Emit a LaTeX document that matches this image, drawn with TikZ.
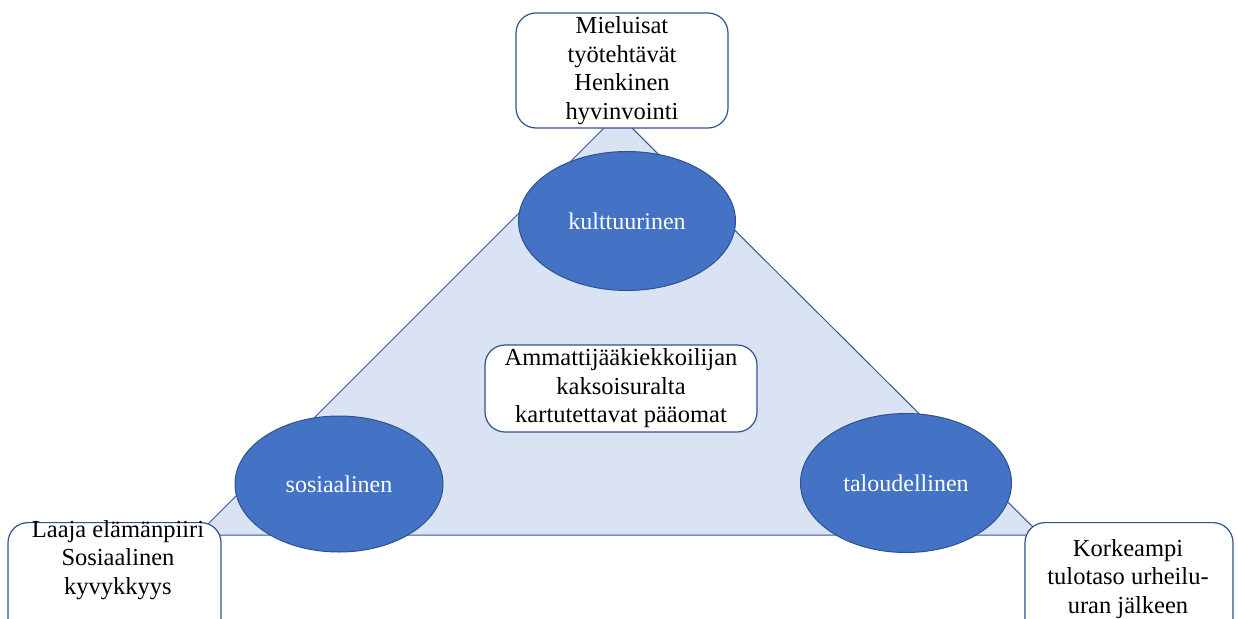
\documentclass[tikz,border=0pt]{standalone}
\usepackage{fontspec}
\setmainfont{Liberation Serif}
\usetikzlibrary{shapes.geometric}
\definecolor{pohja}{HTML}{DAE3F3}
\definecolor{sininen}{HTML}{4472C4}
\definecolor{reuna}{HTML}{2F528F}
\tikzset{
  paaoma/.style={ellipse, draw=reuna, line width=1pt, fill=sininen, text=white,
    inner sep=0pt, font=\fontsize{24}{28.5}\selectfont},
  laatikko/.style={rectangle, rounded corners=20pt, draw=reuna, line width=1.2pt,
    fill=white, inner sep=0pt},
  teksti/.style={align=center, inner sep=0pt, font=\fontsize{24.5}{28.5}\selectfont}
}
\begin{document}
\begin{tikzpicture}[x=1pt,y=-1pt]
\useasboundingbox (0,0) rectangle (1238,618);
% the triangle
\coordinate (karki) at (618,114);
\coordinate (vasen) at (197,535);
\coordinate (oikea) at (1041,535);
\draw[reuna!80!sininen, line width=1pt, fill=pohja] (karki) -- (vasen) -- (oikea) -- cycle;
% the three capitals
\foreach \x/\y/\w/\h/\nimi/\sana in {627/221/217/139/kult/kulttuurinen,
    339/484/208/136/sos/sosiaalinen, 906/483/211/139/tal/taloudellinen}
\node[paaoma, minimum width=\w, minimum height=\h] (\nimi) at (\x,\y) {\sana};
% the boxes
\node[laatikko, teksti, minimum width=212, minimum height=115] (kultbox) at (622,70.5)
  {Mieluisat\\työtehtävät\\Henkinen\\hyvinvointi};
\node[laatikko, teksti, minimum width=272, minimum height=87] (keski) at (621,388.5)
  {Ammattijääkiekkoilijan\\kaksoisuralta\\kartutettavat pääomat};
\node[laatikko, minimum width=213, minimum height=130, anchor=north] (sosbox) at (114.5,522) {};
\node[teksti] (sosteksti) at (118,560) {Laaja elämänpiiri\\Sosiaalinen\\kyvykkyys};
\node[laatikko, minimum width=208, minimum height=130, anchor=north] (talbox) at (1129,522) {};
\node[teksti] (talteksti) at (1128,579) {Korkeampi\\tulotaso urheilu-\\uran jälkeen};
\end{tikzpicture}
\end{document}
